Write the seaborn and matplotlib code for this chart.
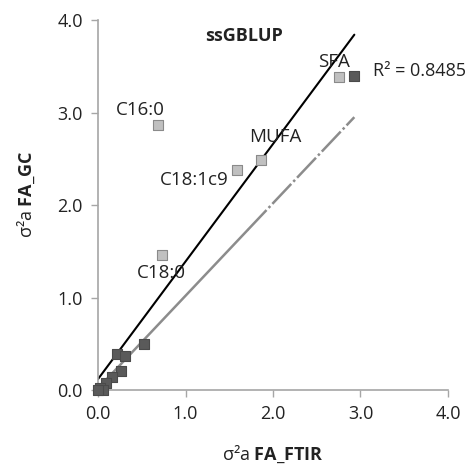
import numpy as np
import pandas as pd
import matplotlib
matplotlib.use('Agg')
import matplotlib.pyplot as plt
import seaborn as sns

# labelled traits (light squares)
lab_names = ['C16:0', 'C18:0', 'C18:1c9', 'MUFA', 'SFA']
lab_x = [0.69, 0.73, 1.59, 1.86, 2.75]
lab_y = [2.86, 1.46, 2.38, 2.49, 3.38]

# other traits (dark squares)
dark_x = [2.93, 0.53, 0.22, 0.31, 0.26, 0.16, 0.09, 0.02, 0.06, 0.00]
dark_y = [3.39, 0.50, 0.39, 0.37, 0.21, 0.14, 0.08, 0.02, 0.00, 0.00]

# trend lines: slope, intercept, x extent
black_fit = (1.27, 0.12)
gray_fit = (1.00, 0.02)
fit_xmax = 2.93
gray_solid_xmax = 1.71

r2_text = 'R\u00b2 = 0.8485'
title = 'ssGBLUP'
ticks = [0, 1, 2, 3, 4]

sns.set_style('ticks')
plt.rcParams['font.family'] = ['Open Sans', 'DejaVu Sans']
plt.rcParams['mathtext.fontset'] = 'custom'
plt.rcParams['mathtext.rm'] = 'Open Sans'
plt.rcParams['mathtext.bf'] = 'Open Sans:bold'

pts = pd.DataFrame({
    'x': lab_x + dark_x,
    'y': lab_y + dark_y,
    'grp': ['lab'] * len(lab_x) + ['dark'] * len(dark_x),
})

fig = plt.figure(figsize=(4.76, 4.65), dpi=100)
ax = fig.add_axes([0.206, 0.161, 0.735, 0.796])

def line_df(fit, x0, x1):
    xs = np.array([x0, x1])
    return pd.DataFrame({'x': xs, 'y': fit[0] * xs + fit[1]})

sns.lineplot(data=line_df(gray_fit, 0, gray_solid_xmax), x='x', y='y',
             color='#8c8c8c', linewidth=1.8, ax=ax)
g2 = line_df(gray_fit, gray_solid_xmax, fit_xmax)
ax.plot(g2['x'], g2['y'], color='#8c8c8c', linewidth=1.8,
        dashes=(11, 1.2, 1, 1.2))
sns.lineplot(data=line_df(black_fit, 0, fit_xmax), x='x', y='y',
             color='black', linewidth=1.5, ax=ax)

sns.scatterplot(data=pts[pts.grp == 'lab'], x='x', y='y', marker='s', s=48,
                color='#c0c0c0', edgecolor='#8a8a8a', linewidth=0.8,
                ax=ax, zorder=3)
sns.scatterplot(data=pts[pts.grp == 'dark'], x='x', y='y', marker='s', s=48,
                color='#5a5a5a', edgecolor='#4a4a4a', linewidth=0.8,
                ax=ax, zorder=3)

label_pos = {'C16:0': (0.48, 3.03), 'C18:0': (0.72, 1.27),
             'C18:1c9': (1.10, 2.27), 'MUFA': (2.03, 2.74),
             'SFA': (2.70, 3.55)}
for n in lab_names:
    px, py = label_pos[n]
    ax.text(px, py, n, ha='center', va='center', fontsize=13.5, color='#222222')

ax.text(3.14, 3.45, r2_text, ha='left', va='center', fontsize=13,
        color='#222222')
ax.text(1.67, 3.83, title, ha='center', va='center', fontsize=13,
        fontweight='bold', color='#222222')

ax.set_xlim(0, 4)
ax.set_ylim(0, 4)
ax.set_xticks(ticks)
ax.set_yticks(ticks)
ax.set_xticklabels([f'{t:.1f}' for t in ticks], fontsize=13, color='#222222')
ax.set_yticklabels([f'{t:.1f}' for t in ticks], fontsize=13, color='#222222')
ax.tick_params(length=5, color='#a6a6a6', width=1, pad=6)
for s in ['left', 'bottom']:
    ax.spines[s].set_color('#a6a6a6')
    ax.spines[s].set_linewidth(1.2)
sns.despine(ax=ax)
ax.set_xlabel('\u03c3\u00b2a $\\mathbf{FA\\_FTIR}$', fontsize=13, color='#222222')
ax.set_ylabel('\u03c3\u00b2a $\\mathbf{FA\\_GC}$', fontsize=13, color='#222222')
ax.xaxis.set_label_coords(0.5, -0.145)
ax.yaxis.set_label_coords(-0.175, 0.53)
for c in ax.collections:
    c.set_clip_on(False)

fig.savefig('out.png', dpi=100)
